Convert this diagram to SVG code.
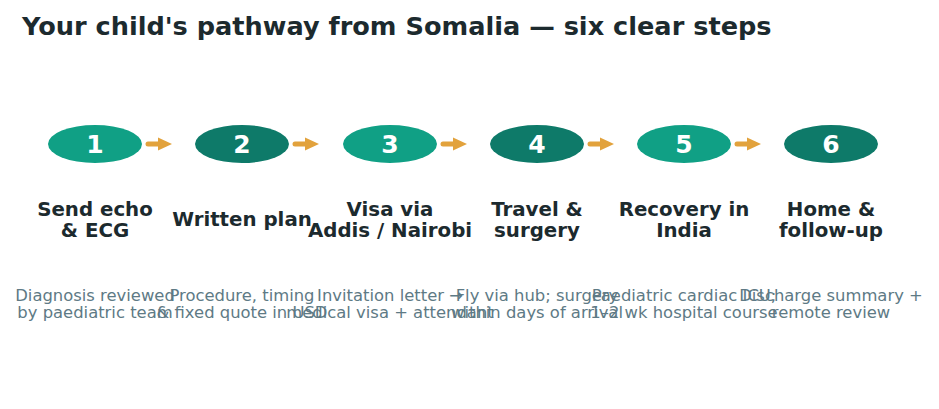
<svg xmlns="http://www.w3.org/2000/svg" width="939" height="409" viewBox="0 0 939 409">
<defs>
<style>
.title{font-family:"DejaVu Sans",sans-serif;font-weight:bold;font-size:25.6px;fill:#1c2a2e}
.num{font-family:"DejaVu Sans",sans-serif;font-weight:bold;font-size:25px;fill:#ffffff;text-anchor:middle}
.lbl{font-family:"DejaVu Sans",sans-serif;font-weight:bold;font-size:19.8px;fill:#1c2a2e;text-anchor:middle}
.desc{font-family:"DejaVu Sans",sans-serif;font-size:16.4px;fill:#5e7a85;text-anchor:middle}
.c1{fill:#10a085}
.c2{fill:#0e7a69}
.arr{stroke:#e2a23c;stroke-width:5;stroke-linecap:round;fill:none}
.ah{fill:#e2a23c}
</style>
</defs>
<rect width="939" height="409" fill="#ffffff"/>
<text class="title" x="22" y="35">Your child's pathway from Somalia — six clear steps</text>
<g id="connectors">
<line class="arr" x1="148" y1="144" x2="160" y2="144"/><polygon class="ah" points="158,137.5 172,144 158,150.5"/>
<line class="arr" x1="295" y1="144" x2="307" y2="144"/><polygon class="ah" points="305,137.5 319,144 305,150.5"/>
<line class="arr" x1="443" y1="144" x2="455" y2="144"/><polygon class="ah" points="453,137.5 467,144 453,150.5"/>
<line class="arr" x1="590" y1="144" x2="602" y2="144"/><polygon class="ah" points="600,137.5 614,144 600,150.5"/>
<line class="arr" x1="737" y1="144" x2="749" y2="144"/><polygon class="ah" points="747,137.5 761,144 747,150.5"/>
</g>
<g id="step1">
<ellipse class="c1" cx="95" cy="144" rx="47" ry="19"/>
<text class="num" x="95" y="153">1</text>
<text class="lbl" x="95" y="216">Send echo</text>
<text class="lbl" x="95" y="237">&amp; ECG</text>
<text class="desc" x="95" y="301">Diagnosis reviewed</text>
<text class="desc" x="95" y="318">by paediatric team</text>
</g>
<g id="step2">
<ellipse class="c2" cx="242" cy="144" rx="47" ry="19"/>
<text class="num" x="242" y="153">2</text>
<text class="lbl" x="242" y="226">Written plan</text>
<text class="desc" x="242" y="301">Procedure, timing</text>
<text class="desc" x="242" y="318">&amp; fixed quote in USD</text>
</g>
<g id="step3">
<ellipse class="c1" cx="390" cy="144" rx="47" ry="19"/>
<text class="num" x="390" y="153">3</text>
<text class="lbl" x="390" y="216">Visa via</text>
<text class="lbl" x="390" y="237">Addis / Nairobi</text>
<text class="desc" x="390" y="301">Invitation letter →</text>
<text class="desc" x="390" y="318">medical visa + attendant</text>
</g>
<g id="step4">
<ellipse class="c2" cx="537" cy="144" rx="47" ry="19"/>
<text class="num" x="537" y="153">4</text>
<text class="lbl" x="537" y="216">Travel &amp;</text>
<text class="lbl" x="537" y="237">surgery</text>
<text class="desc" x="537" y="301">Fly via hub; surgery</text>
<text class="desc" x="537" y="318">within days of arrival</text>
</g>
<g id="step5">
<ellipse class="c1" cx="684" cy="144" rx="47" ry="19"/>
<text class="num" x="684" y="153">5</text>
<text class="lbl" x="684" y="216">Recovery in</text>
<text class="lbl" x="684" y="237">India</text>
<text class="desc" x="684" y="301">Paediatric cardiac ICU;</text>
<text class="desc" x="684" y="318">1–2 wk hospital course</text>
</g>
<g id="step6">
<ellipse class="c2" cx="831" cy="144" rx="47" ry="19"/>
<text class="num" x="831" y="153">6</text>
<text class="lbl" x="831" y="216">Home &amp;</text>
<text class="lbl" x="831" y="237">follow-up</text>
<text class="desc" x="831" y="301">Discharge summary +</text>
<text class="desc" x="831" y="318">remote review</text>
</g>
</svg>
